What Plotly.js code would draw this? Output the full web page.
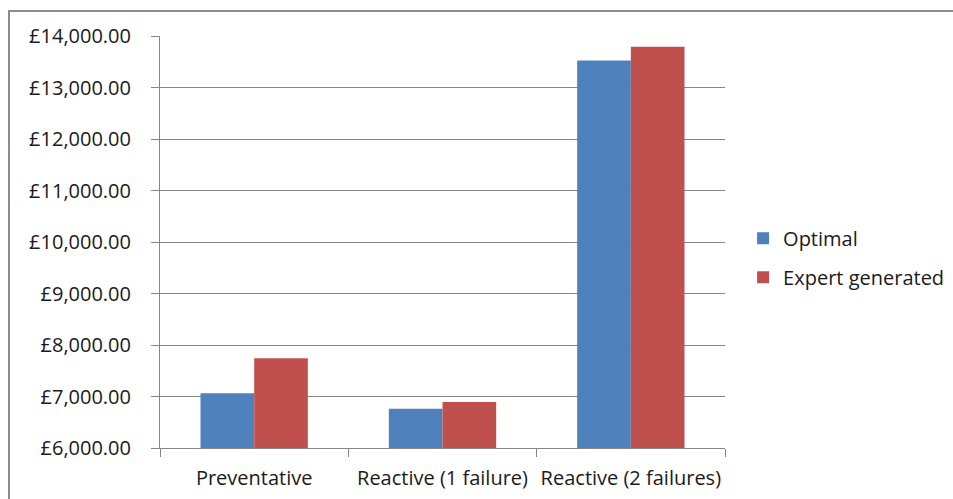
<!DOCTYPE html>
<html>
<head>
<meta charset="utf-8">
<script src="https://cdn.plot.ly/plotly-3.0.1.min.js"></script>
<style>
  html, body { margin: 0; padding: 0; background: #ffffff; overflow: hidden; }
  #wrap { position: relative; width: 953px; height: 499px; }
  #chart { position: absolute; left: 0; top: 0; width: 953px; height: 499px; }
  #frame { position: absolute; left: 8px; top: 10px; width: 980px; height: 520px;
           border: 2px solid #8c8c8c; pointer-events: none; box-sizing: border-box; }
</style>
</head>
<body>
<div id="wrap">
  <div id="chart"></div>
  <div id="frame"></div>
</div>
<script>
// Data
const categories = ["Preventative", "Reactive (1 failure)", "Reactive (2 failures)"];
const optimalValues = [7065, 6760, 13525];
const expertValues = [7745, 6895, 13790];
const seriesNames = ["Optimal", "Expert generated"];
const yTickValues = [6000, 7000, 8000, 9000, 10000, 11000, 12000, 13000, 14000];
const yTickLabels = yTickValues.map(v => "\u00A3" + v.toLocaleString("en-GB", { minimumFractionDigits: 2, maximumFractionDigits: 2 }));

const fontFamily = "'Open Sans', 'Noto Sans', sans-serif";
const textColor = "#1a1a1a";
const gridColor = "#868686";
const fontSize = 20;

const traces = [
  {
    type: "bar",
    name: seriesNames[0],
    x: categories,
    y: optimalValues,
    marker: { color: "#4F81BD" },
    legendgroup: "a",
    hoverinfo: "x+y"
  },
  {
    type: "bar",
    name: seriesNames[1],
    x: categories,
    y: expertValues,
    marker: { color: "#C0504D" },
    legendgroup: "b",
    hoverinfo: "x+y"
  }
];

const layout = {
  width: 953,
  height: 499,
  margin: { l: 160, r: 228, t: 36, b: 51, autoexpand: false },
  paper_bgcolor: "rgba(0,0,0,0)",
  plot_bgcolor: "rgba(0,0,0,0)",
  barmode: "group",
  bargap: 0.43,
  bargroupgap: 0,
  font: { family: fontFamily, size: fontSize, color: textColor },
  xaxis: {
    type: "category",
    automargin: false,
    tickangle: 0,
    showline: true,
    linecolor: gridColor,
    linewidth: 1,
    ticks: "outside",
    tickson: "boundaries",
    ticklen: 8,
    tickcolor: gridColor,
    showgrid: false,
    ticklabelstandoff: 12,
    tickfont: { family: fontFamily, size: fontSize, color: textColor },
    fixedrange: true
  },
  yaxis: {
    automargin: false,
    range: [6000, 14000],
    tickmode: "array",
    tickvals: yTickValues,
    ticktext: yTickLabels,
    showline: true,
    linecolor: gridColor,
    linewidth: 1,
    ticks: "outside",
    ticklen: 8,
    tickcolor: gridColor,
    showgrid: true,
    gridcolor: gridColor,
    gridwidth: 1,
    zeroline: false,
    ticklabelstandoff: 16,
    tickfont: { family: fontFamily, size: fontSize, color: textColor },
    fixedrange: true
  },
  showlegend: true,
  legend: {
    x: 1.032,
    xanchor: "left",
    y: 0.462,
    yanchor: "middle",
    traceorder: "grouped",
    tracegroupgap: 10,
    font: { family: fontFamily, size: fontSize, color: textColor },
    bgcolor: "rgba(0,0,0,0)"
  }
};

Plotly.newPlot("chart", traces, layout, { displayModeBar: false, staticPlot: true });
</script>
</body>
</html>
